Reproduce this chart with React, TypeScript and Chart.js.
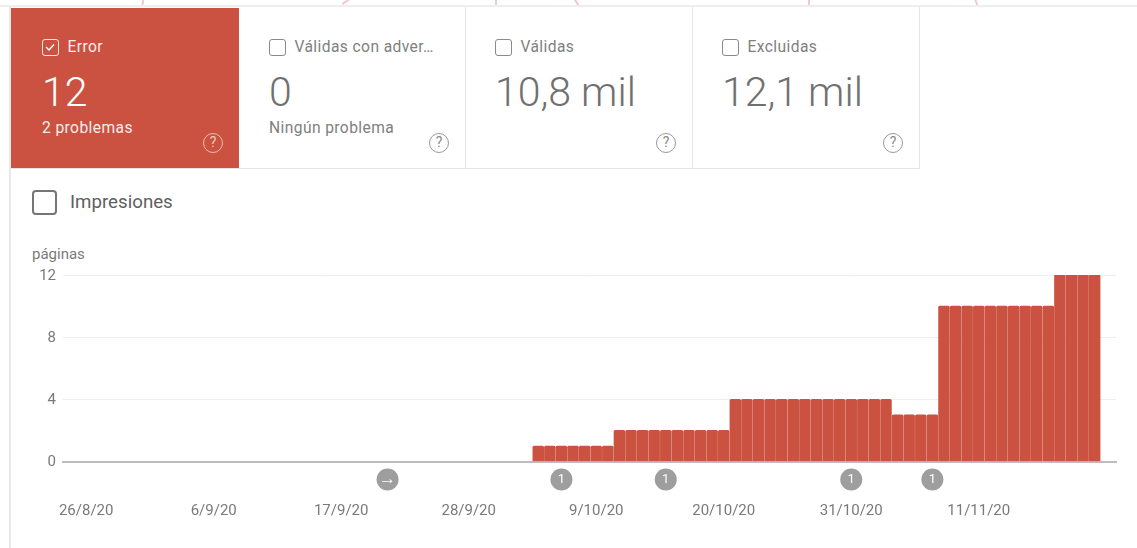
import React, { useEffect, useRef } from "react";
import { Chart, registerables } from "chart.js";

Chart.register(...registerables);

const tickDays = [0, 11, 22, 33, 44, 55, 66, 77];
const tickLabels = ["26/8/20", "6/9/20", "17/9/20", "28/9/20", "9/10/20", "20/10/20", "31/10/20", "11/11/20"];
const barDays = [
  39, 40, 41, 42, 43, 44, 45, 46, 47, 48, 49, 50, 51, 52, 53, 54, 55,
  56, 57, 58, 59, 60, 61, 62, 63, 64, 65, 66, 67, 68, 69, 70, 71, 72, 73, 74, 75,
  76, 77, 78, 79, 80, 81, 82, 83, 84, 85, 86, 87,
];
const errorValues = [
  1, 1, 1, 1, 1, 1, 1,
  2, 2, 2, 2, 2, 2, 2, 2, 2, 2,
  4, 4, 4, 4, 4, 4, 4, 4, 4, 4, 4, 4, 4, 4,
  3, 3, 3, 3,
  10, 10, 10, 10, 10, 10, 10, 10, 10, 10,
  12, 12, 12, 12,
];
const yTicks = [0, 4, 8, 12];
const markerDays = [26, 41, 50, 66, 73];
const markerTexts = ["→", "1", "1", "1", "1"];

const FONT = "Roboto, sans-serif";
const RED = "#CB5240";
const GREY_TEXT = "#7a7a7a";

type Card = { label: string; value: string; sub?: string; left: number; width: number; active?: boolean };
const cards: Card[] = [
  { label: "Error", value: "12", sub: "2 problemas", left: 11, width: 228, active: true },
  { label: "Válidas con adver…", value: "0", sub: "Ningún problema", left: 239, width: 226 },
  { label: "Válidas", value: "10,8 mil", left: 465, width: 227 },
  { label: "Excluidas", value: "12,1 mil", left: 692, width: 227 },
];
const pinkMarks = [
  { x: 142, r: 8 },
  { x: 345, r: 55 },
  { x: 495, r: 0 },
  { x: 575, r: -35 },
  { x: 808, r: 3 },
  { x: 975, r: -20 },
];

const abs = (o: React.CSSProperties): React.CSSProperties => ({ position: "absolute", ...o });

function CardView({ c }: { c: Card }) {
  const fg = c.active ? "#fff" : "#707070";
  const soft = c.active ? "rgba(255,255,255,0.92)" : "#808080";
  const pad = c.left + (c.active ? 31 : 30);
  return (
    <>
      {c.active ? <div style={abs({ left: c.left, top: 8, width: c.width, height: 160, background: RED })} /> : null}
      <div style={abs({ left: pad, top: 39, width: 17, height: 17, boxSizing: "border-box", border: `1.5px solid ${c.active ? "rgba(255,255,255,.85)" : "#8a8a8a"}`, borderRadius: 3 })}>
        {c.active ? (
          <svg width="14" height="14" viewBox="0 0 14 14" style={{ display: "block" }}>
            <path d="M3 7 L6 10 L11 4.5" fill="none" stroke="#fff" strokeWidth="1.4" />
          </svg>
        ) : null}
      </div>
      <div style={abs({ left: pad + 25.5, top: 38, font: `15.6px ${FONT}`, lineHeight: "18px", color: soft, whiteSpace: "nowrap", letterSpacing: 0.4 })}>{c.label}</div>
      <div style={abs({ left: pad, top: 68, font: `300 41px ${FONT}`, lineHeight: "48px", color: fg, whiteSpace: "nowrap" })}>{c.value}</div>
      {c.sub ? (
        <div style={abs({ left: pad, top: 119, font: `15.6px ${FONT}`, lineHeight: "18px", color: soft, whiteSpace: "nowrap", letterSpacing: 0.4 })}>{c.sub}</div>
      ) : null}
      <div style={abs({ left: c.left + c.width - 36, top: 133, width: 20, height: 20, boxSizing: "border-box", border: `1.5px solid ${c.active ? "rgba(255,255,255,.6)" : "#9a9a9a"}`, borderRadius: "50%", textAlign: "center", font: `14px ${FONT}`, lineHeight: "17px", color: c.active ? "rgba(255,255,255,.7)" : "#8a8a8a" })}>?</div>
    </>
  );
}

const markersPlugin = {
  id: "markers",
  afterDraw(chart: any) {
    const { ctx, scales } = chart;
    markerDays.forEach((d, i) => {
      const x = scales.x.getPixelForValue(d);
      const y = 479.5;
      ctx.save();
      ctx.fillStyle = "#9E9E9E";
      ctx.beginPath();
      ctx.arc(x, y, 11, 0, Math.PI * 2);
      ctx.fill();
      ctx.fillStyle = "#fff";
      ctx.font = `${markerTexts[i] === "1" ? 13 : 17}px ${FONT}`;
      ctx.textAlign = "center";
      ctx.textBaseline = "middle";
      ctx.fillText(markerTexts[i], x, y);
      ctx.restore();
    });
  },
};

export default function App() {
  const ref = useRef<HTMLCanvasElement>(null);
  useEffect(() => {
    document.body.style.margin = "0";
    document.body.style.background = "#fff";
    const chart = new Chart(ref.current!, {
      type: "bar",
      data: {
        datasets: [
          {
            label: "Error",
            data: barDays.map((d, i) => ({ x: d, y: errorValues[i] })),
            backgroundColor: RED,
            barThickness: 10.8,
            borderRadius: { topLeft: 1.5, topRight: 1.5, bottomLeft: 0, bottomRight: 0 },
            borderSkipped: false,
          } as any,
        ],
      },
      options: {
        responsive: false,
        animation: false,
        layout: { padding: { top: 275, right: 21, left: 0, bottom: 0 } },
        plugins: { legend: { display: false }, tooltip: { enabled: false } },
        scales: {
          x: {
            type: "linear",
            offset: false,
            min: -2.0,
            max: 88.84,
            afterBuildTicks: (axis: any) => {
              axis.ticks = tickDays.map((value) => ({ value }));
            },
            afterFit: (axis: any) => {
              axis.height = 86.5;
            },
            grid: { display: false, drawTicks: false },
            border: { display: true, color: "#BDBDBD", width: 2 },
            ticks: {
              autoSkip: false,
              maxRotation: 0,
              padding: 41,
              color: GREY_TEXT,
              font: { family: FONT, size: 15 },
              callback: (v: any) => tickLabels[tickDays.indexOf(v)] ?? "",
            },
          },
          y: {
            min: 0,
            max: 12,
            afterBuildTicks: (axis: any) => {
              axis.ticks = yTicks.map((value) => ({ value }));
            },
            afterFit: (axis: any) => {
              axis.width = 63;
            },
            grid: { color: "#EEEEEE", drawTicks: false },
            border: { display: false },
            ticks: { padding: 7, labelOffset: 1, color: GREY_TEXT, font: { family: FONT, size: 15 } },
          },
        },
      } as any,
      plugins: [markersPlugin],
    });
    return () => chart.destroy();
  }, []);

  return (
    <div style={abs({ left: 0, top: 0, width: 1137, height: 548, overflow: "hidden", background: "#fff", fontFamily: FONT, filter: "blur(0.4px)" })}>
      {pinkMarks.map((m, i) => (
        <div key={i} style={abs({ left: m.x, top: -3, width: 2, height: 9, background: "#EFC9D0", transform: `rotate(${m.r}deg)` })} />
      ))}
      <div style={abs({ left: 0, top: 5, width: 1137, height: 2, background: "#EEEEEE" })} />
      <div style={abs({ left: 9, top: 7, width: 2, height: 541, background: "#E8E8E8" })} />
      <div style={abs({ left: 11, top: 168, width: 909, height: 1, background: "#E6E6E6" })} />
      {[465, 692, 919].map((x) => (
        <div key={x} style={abs({ left: x, top: 7, width: 1, height: 161, background: "#E6E6E6" })} />
      ))}
      {cards.map((c) => (
        <CardView key={c.label} c={c} />
      ))}
      <div style={abs({ left: 32, top: 190, width: 25, height: 25, boxSizing: "border-box", border: "2px solid #757575", borderRadius: 4 })} />
      <div style={abs({ left: 70, top: 191, font: `18.7px ${FONT}`, lineHeight: "22px", color: "#5f5f5f" })}>Impresiones</div>
      <div style={abs({ left: 32, top: 245, font: `15px ${FONT}`, lineHeight: "18px", color: GREY_TEXT })}>páginas</div>
      <canvas ref={ref} width={1137} height={548} style={abs({ left: 0, top: 0 })} />
    </div>
  );
}
